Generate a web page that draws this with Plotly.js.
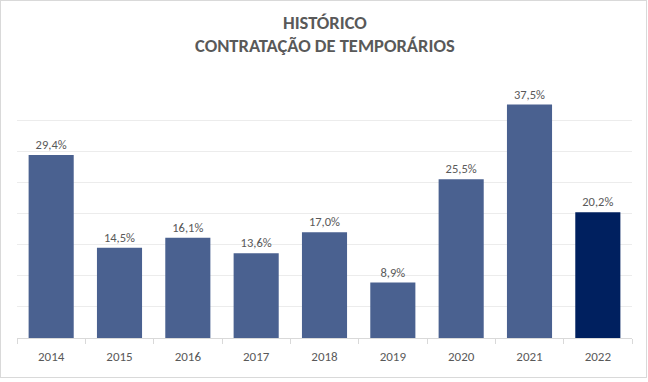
<!DOCTYPE html>
<html><head><meta charset="utf-8">
<script src="https://cdn.plot.ly/plotly-3.0.1.min.js"></script>
<style>
html,body{margin:0;padding:0;background:#fff;}
#wrap{position:absolute;left:0;top:0;width:647px;height:378px;box-sizing:border-box;border:1px solid #d9d9d9;}
#chart{width:645px;height:376px;}
</style></head>
<body><div id="wrap"><div id="chart"></div></div>
<script>
const years = ['2014','2015','2016','2017','2018','2019','2020','2021','2022'];
const values = [29.4, 14.5, 16.1, 13.6, 17.0, 8.9, 25.5, 37.5, 20.2];
const labels = ['29,4%','14,5%','16,1%','13,6%','17,0%','8,9%','25,5%','37,5%','20,2%'];
const barColors = ['#4a6190','#4a6190','#4a6190','#4a6190','#4a6190','#4a6190','#4a6190','#4a6190','#00205f'];
const titleLines = ['HISTÓRICO','CONTRATAÇÃO DE TEMPORÁRIOS'];
const fontFam = 'Carlito, Calibri, "Liberation Sans Narrow", Lato, sans-serif';
Plotly.newPlot('chart', [{
  type:'bar', x: years, y: values, text: labels, textposition:'outside',
  textfont:{family:fontFam, size:12.5, color:'#595959'}, cliponaxis:false,
  marker:{color: barColors}, width:0.66, hoverinfo:'none'
}], {
  width:645, height:376,
  margin:{l:16, r:14, t:88, b:39},
  paper_bgcolor:'#fff', plot_bgcolor:'#fff',
  annotations:[
    {text:'<b>'+titleLines[0]+'</b>', xref:'paper', yref:'paper', x:0.5, y:1.269, xanchor:'center', yanchor:'middle', showarrow:false,
     font:{family:fontFam, size:18.5, color:'#595959'}},
    {text:'<b>'+titleLines[1]+'</b>', xref:'paper', yref:'paper', x:0.5, y:1.173, xanchor:'center', yanchor:'middle', showarrow:false,
     font:{family:fontFam, size:18.5, color:'#595959'}}
  ],
  xaxis:{type:'category', showline:true, linecolor:'#d9d9d9', ticks:'outside', tickson:'boundaries', ticklen:5, tickcolor:'#d9d9d9',
    ticklabelstandoff:6,
    tickfont:{family:fontFam, size:13, color:'#595959'}, showgrid:false, fixedrange:true},
  yaxis:{range:[0,40], dtick:5, showgrid:true, gridcolor:'#ececec', gridwidth:1, showticklabels:false, zeroline:false, fixedrange:true},
  showlegend:false, bargap:0.34
}, {displayModeBar:false, staticPlot:true});
</script></body></html>
